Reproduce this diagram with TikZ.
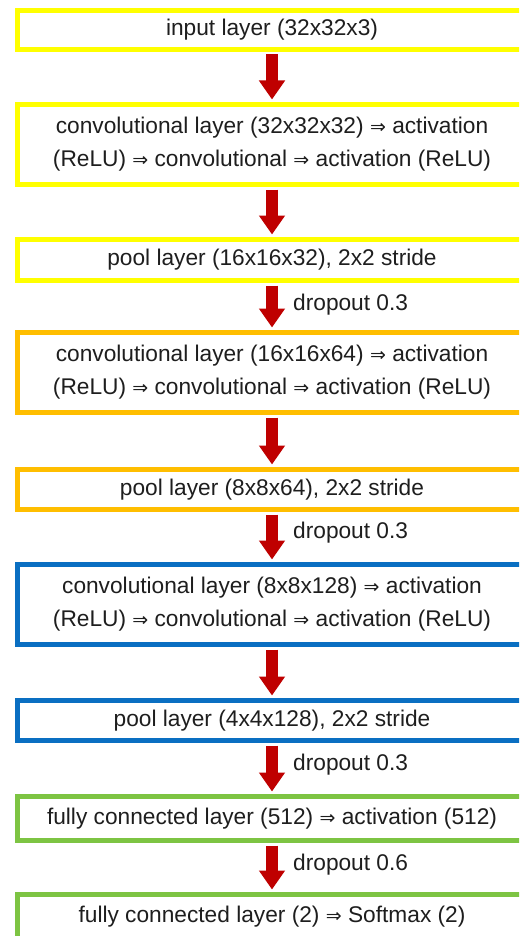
\documentclass[tikz,border=0pt]{standalone}
\usepackage{fontspec}
\setmainfont{Liberation Sans}
\newfontfamily\arrowfont{DejaVu Sans}
\usetikzlibrary{arrows.meta}
\definecolor{boxyellow}{HTML}{FFFF00}
\definecolor{boxorange}{HTML}{FFBE00}
\definecolor{boxblue}{HTML}{0A6FC2}
\definecolor{boxgreen}{HTML}{7DC443}
\definecolor{arrowred}{HTML}{BF0000}
\definecolor{txt}{HTML}{1E1E1E}
\newcommand{\imp}{{\arrowfont\fontsize{19}{33}\selectfont ⇒}}
\tikzset{
  layerbox/.style={draw=#1, line width=5pt, fill=white, rectangle,
    minimum width=509pt, inner sep=0pt, align=center, text=txt,
    font=\fontsize{22.7}{33}\selectfont},
  flow/.style={draw=arrowred, line width=12pt,
    -{Triangle[width=25pt,length=19pt]},
    shorten <=2.5pt, shorten >=2.5pt},
  droplabel/.style={anchor=west, inner sep=0pt, text=txt,
    font=\fontsize{22.7}{27}\selectfont}
}
\begin{document}
\begin{tikzpicture}[x=1pt,y=-1pt]
\clip (0,0) rectangle (519,936);
\fill[white] (0,0) rectangle (519,936);

% layer boxes
\node[layerbox=boxyellow, minimum height=39pt] (in) at (272,30) {input layer (32x32x3)};
\node[layerbox=boxyellow, minimum height=80pt] (c1) at (272,144.5)
  {convolutional layer (32x32x32) \imp\ activation\\(ReLU) \imp\ convolutional \imp\ activation (ReLU)};
\node[layerbox=boxyellow, minimum height=41pt] (p1) at (272,260) {pool layer (16x16x32), 2x2 stride};
\node[layerbox=boxorange, minimum height=80pt] (c2) at (272,372.5)
  {convolutional layer (16x16x64) \imp\ activation\\(ReLU) \imp\ convolutional \imp\ activation (ReLU)};
\node[layerbox=boxorange, minimum height=40pt] (p2) at (272,489.5) {pool layer (8x8x64), 2x2 stride};
\node[layerbox=boxblue, minimum height=80pt] (c3) at (272,604.5)
  {convolutional layer (8x8x128) \imp\ activation\\(ReLU) \imp\ convolutional \imp\ activation (ReLU)};
\node[layerbox=boxblue, minimum height=40pt] (p3) at (272,720.5) {pool layer (4x4x128), 2x2 stride};
\node[layerbox=boxgreen, minimum height=44pt] (f1) at (272,818.5)
  {fully connected layer (512) \imp\ activation (512)};
\node[layerbox=boxgreen, minimum height=44pt] (f2) at (272,916.5)
  {fully connected layer (2) \imp\ Softmax (2)};

% connectors
\draw[flow] (in.south) -- (c1.north);
\draw[flow] (c1.south) -- (p1.north);
\draw[flow] (p1.south) -- (c2.north);
\draw[flow] (c2.south) -- (p2.north);
\draw[flow] (p2.south) -- (c3.north);
\draw[flow] (c3.south) -- (p3.north);
\draw[flow] (p3.south) -- (f1.north);
\draw[flow] (f1.south) -- (f2.north);

% dropout labels
\node[droplabel] (d1) at (293,305) {dropout 0.3};
\node[droplabel] (d2) at (293,533) {dropout 0.3};
\node[droplabel] (d3) at (293,765) {dropout 0.3};
\node[droplabel] (d4) at (293,865) {dropout 0.6};
\end{tikzpicture}
\end{document}
